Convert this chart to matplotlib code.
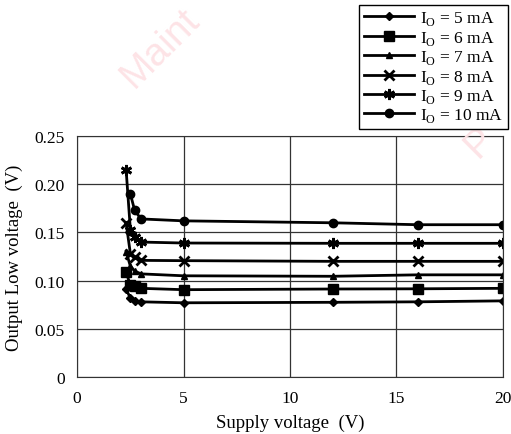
import numpy as np
import matplotlib.pyplot as plt

plt.rcParams['font.family'] = ['Liberation Serif', 'DejaVu Serif']
plt.rcParams['mathtext.fontset'] = 'custom'
plt.rcParams['mathtext.rm'] = 'Liberation Serif'

# supply voltage (V)
vcc = [2.3, 2.5, 2.7, 3.0, 5, 12, 16, 20]
vcc10 = [2.5, 2.7, 3.0, 5, 12, 16, 20]

# output low voltage (V)
vol_5 = [0.091, 0.082, 0.079, 0.078, 0.077, 0.0775, 0.078, 0.079]
vol_6 = [0.109, 0.095, 0.094, 0.092, 0.0906, 0.0913, 0.0915, 0.092]
vol_7 = [0.130, 0.115, 0.110, 0.107, 0.105, 0.1045, 0.106, 0.106]
vol_8 = [0.160, 0.128, 0.124, 0.121, 0.1207, 0.120, 0.120, 0.120]
vol_9 = [0.215, 0.153, 0.145, 0.140, 0.139, 0.1387, 0.1387, 0.1387]
vol_10 = [0.190, 0.173, 0.164, 0.162, 0.160, 0.158, 0.158]

labels = ['5', '6', '7', '8', '9', '10']
markers = ['D', 's', '^', 'x', (6, 2, 0), 'o']
msizes = [4, 7, 5, 7, 8, 6]

fig = plt.figure(figsize=(5.11, 4.35), dpi=100)

# faint watermark, behind everything
wm = dict(color='#fde3e6', fontsize=28, rotation=45, rotation_mode='anchor',
          ha='left', va='baseline', family='Liberation Sans', zorder=0)
fig.text(0.262, 0.795, 'Maint', **wm)
fig.text(0.935, 0.635, 'P', **wm)

ax = fig.add_axes([0.151, 0.131, 0.833, 0.554])
ax.set_facecolor('none')

series = [(vcc, vol_5), (vcc, vol_6), (vcc, vol_7), (vcc, vol_8), (vcc, vol_9), (vcc10, vol_10)]
for (xs, ys), lab, m, ms in zip(series, labels, markers, msizes):
    ax.plot(xs, ys, color='black', lw=2, marker=m, markersize=ms,
            markeredgewidth=2 if m in ('x', (6, 2, 0)) else 1,
            label='I$_{\\rm O}$ = ' + lab + ' mA')

ax.set_xlim(0, 20)
ax.set_ylim(0, 0.25)
ax.set_xticks([0, 5, 10, 15, 20])
ax.set_yticks([0, 0.05, 0.10, 0.15, 0.20, 0.25])
ax.set_yticklabels(['0', '0.05', '0.10', '0.15', '0.20', '0.25'])
ax.tick_params(length=0, labelsize=12.5, pad=9)
ax.grid(True, color='#333333', lw=0.9)
for s in ax.spines.values():
    s.set_color('#333333')
ax.set_xlabel('Supply voltage  (V)', fontsize=13.5, labelpad=6)
ax.set_ylabel('Output Low voltage  (V)', fontsize=13.5, labelpad=8)

leg = fig.legend(loc='upper right', bbox_to_anchor=(0.994, 0.986), fontsize=12.5,
                 handlelength=2.9, frameon=True, fancybox=False, borderpad=0.25,
                 labelspacing=0.08, handletextpad=0.35, borderaxespad=0)
leg.get_frame().set_edgecolor('black')
leg.get_frame().set_linewidth(1)
leg.get_frame().set_alpha(1)

fig.savefig('out.png', dpi=100)
